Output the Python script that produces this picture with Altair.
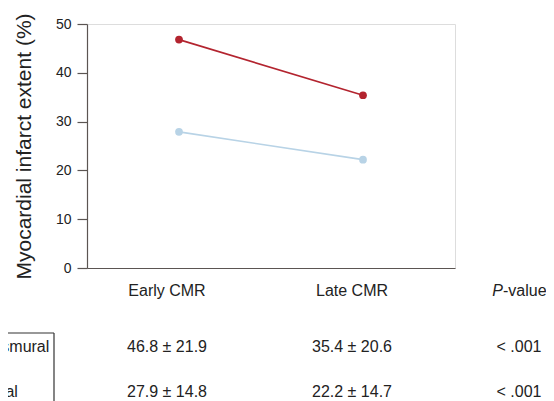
import altair as alt
import pandas as pd

# ---- data ----
times = ["Early CMR", "Late CMR"]
groups = ["Transmural", "Lateral"]
early_mean = [46.8, 27.9]
late_mean = [35.4, 22.2]
early_sd = [21.9, 14.8]
late_sd = [20.6, 14.7]
p_values = ["< .001", "< .001"]
colors = ["#b3242f", "#b8d3e6"]

header_cols = ["Early CMR", "Late CMR"]

FONT = "Liberation Sans"
FS = 16

# long-form data for the lines
rows = []
for g, e, l in zip(groups, early_mean, late_mean):
    rows.append({"group": g, "time": times[0], "value": e})
    rows.append({"group": g, "time": times[1], "value": l})
lines_df = pd.DataFrame(rows)

# table data: column index (0,1,2) and row index (0 header, 1.. groups)
cells = []
for i, h in enumerate(header_cols):
    cells.append({"ci": i, "ri": 0, "text": h})
for r, (g, e, es, l, ls, p) in enumerate(zip(groups, early_mean, early_sd, late_mean, late_sd, p_values), start=1):
    cells.append({"ci": 0, "ri": r, "text": f"{e} \u00b1 {es}"})
    cells.append({"ci": 1, "ri": r, "text": f"{l} \u00b1 {ls}"})
    cells.append({"ci": 2, "ri": r, "text": p})
cells_df = pd.DataFrame(cells)
labels_df = pd.DataFrame({"ci": [-1] * len(groups), "ri": list(range(1, len(groups) + 1)), "text": groups})
pv_df = pd.DataFrame({"ci": [2], "ri": [0]})

color_scale = alt.Scale(domain=groups, range=colors)

base = alt.Chart(lines_df).encode(
    x=alt.X("time:N", sort=times,
            scale=alt.Scale(type="point", padding=0.5),
            axis=alt.Axis(title=None, labels=False, ticks=False, domain=True,
                          domainColor="#5b5552", domainWidth=1.2, grid=False)),
    y=alt.Y("value:Q", scale=alt.Scale(domain=[0, 50], nice=False),
            axis=alt.Axis(title="Myocardial infarct extent (%)", values=[0, 10, 20, 30, 40, 50],
                          tickSize=10, tickColor="#5b5552", domainColor="#5b5552",
                          domainWidth=1.2, tickWidth=1.2,
                          labelFontSize=14, labelFont=FONT, labelColor="#222222", labelPadding=6,
                          titleFontSize=21, titleFont=FONT, titleFontWeight="normal",
                          titleColor="#222222", titlePadding=21, grid=False)),
    color=alt.Color("group:N", scale=color_scale, legend=None),
)
lines = base.mark_line(strokeWidth=1.6)
points = base.mark_circle(size=60, opacity=1)
main = alt.layer(lines, points)

xt = alt.X("ci:Q", scale=alt.Scale(domain=[-1, 0, 1, 2], range=[-118, 80, 265, 432]), axis=None)
yt = alt.Y("ri:Q", scale=alt.Scale(domain=[0, 1, 2], range=[267, 323, 368]), axis=None)

cell_text = alt.Chart(cells_df).mark_text(font=FONT, fontSize=FS, color="#222222",
                                          align="center", baseline="middle").encode(
    x=xt, y=yt, text="text:N")
row_labels = alt.Chart(labels_df).mark_text(font=FONT, fontSize=FS, color="#222222",
                                            align="left", baseline="middle").encode(
    x=xt, y=yt, text="text:N")
pv_p = alt.Chart(pv_df).mark_text(font=FONT, fontSize=FS, color="#222222", fontStyle="italic",
                                  align="right", baseline="middle", dx=-16, text="P").encode(x=xt, y=yt)
pv_rest = alt.Chart(pv_df).mark_text(font=FONT, fontSize=FS, color="#222222",
                                     align="left", baseline="middle", dx=-16, text="-value").encode(x=xt, y=yt)

box_top = alt.Chart(pv_df).mark_rule(color="#333333", strokeWidth=1.2).encode(
    x=alt.value(-79), x2=alt.value(-33), y=alt.value(309))
box_side = alt.Chart(pv_df).mark_rule(color="#333333", strokeWidth=1.2).encode(
    x=alt.value(-33), y=alt.value(309), y2=alt.value(400))

table = alt.layer(cell_text, row_labels, pv_p, pv_rest, box_top, box_side)

chart = alt.layer(main, table).resolve_scale(x="independent", y="independent").properties(
    width=368, height=244,
    autosize=alt.AutoSizeParams(type="none"),
    padding={"left": 79, "top": 16, "right": 91, "bottom": 133},
).configure_view(stroke=None).configure(background="white")

chart.save("out.html", embed_options={"renderer": "svg", "actions": False})
